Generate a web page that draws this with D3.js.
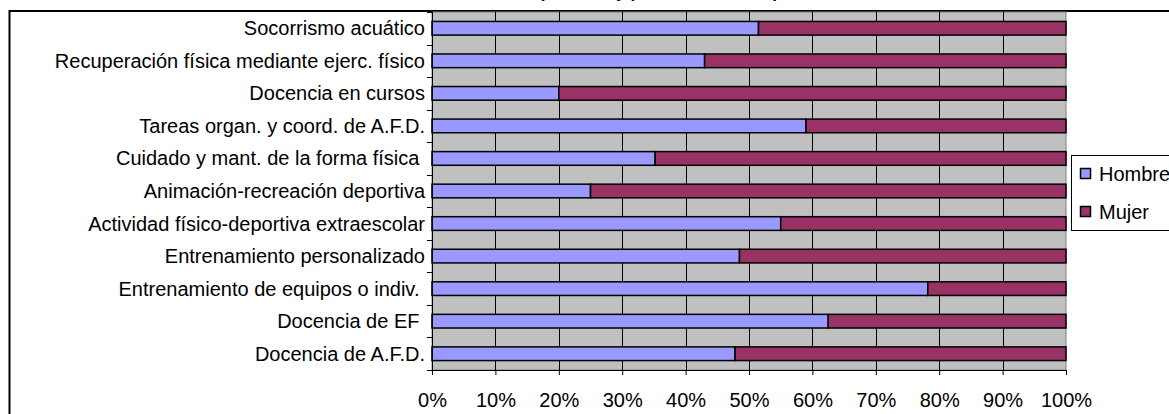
<!DOCTYPE html>
<html>
<head>
<meta charset="utf-8">
<script src="https://cdn.jsdelivr.net/npm/d3@7"></script>
<style>
  html, body { margin: 0; padding: 0; background: #ffffff; overflow: hidden; }
  svg { display: block; }
  text { font-family: "Liberation Sans", Arial, sans-serif; fill: #000; }
</style>
</head>
<body>
<svg id="chart" width="1169" height="414"></svg>
<script>
// ---- Data ----
const title = "Distribución por sexo y por ámbito de empleo";
const categories = [
  "Socorrismo acuático",
  "Recuperación física mediante ejerc. físico",
  "Docencia en cursos",
  "Tareas organ. y coord. de A.F.D.",
  "Cuidado y mant. de la forma física ",
  "Animación-recreación deportiva",
  "Actividad físico-deportiva extraescolar",
  "Entrenamiento personalizado",
  "Entrenamiento de equipos o indiv. ",
  "Docencia de EF ",
  "Docencia de A.F.D."
];
const seriesNames = ["Hombre", "Mujer"];
const hombre = [51.5, 43, 20, 59, 35.2, 25, 55, 48.5, 78.2, 62.5, 47.8];
const mujer  = [48.5, 57, 80, 41, 64.8, 75, 45, 51.5, 21.8, 37.5, 52.2];
const xTicks = [0, 10, 20, 30, 40, 50, 60, 70, 80, 90, 100];
const colors = ["#9999FF", "#993366"];

// ---- Layout ----
const svg = d3.select("#chart");
const plot = { left: 432, right: 1066, top: 12, bottom: 370 };
const fontSize = "20px";

const x = d3.scaleLinear().domain([0, 100]).range([plot.left, plot.right]);
const y = d3.scaleBand().domain(categories).range([plot.top, plot.bottom])
  .paddingInner(0.58).paddingOuter(0.29);

// outer chart frame
svg.append("rect")
  .attr("x", 9.5).attr("y", 11).attr("width", 1200).attr("height", 500)
  .attr("fill", "#fff").attr("stroke", "#000").attr("stroke-width", 2);

// title (mostly clipped above the view, as in the reference)
svg.append("text")
  .attr("x", 622).attr("y", -2)
  .attr("text-anchor", "middle")
  .style("font-size", "17px").style("font-weight", "bold")
  .text(title);

// plot background
svg.append("rect")
  .attr("x", plot.left).attr("y", plot.top)
  .attr("width", plot.right - plot.left).attr("height", plot.bottom - plot.top)
  .attr("fill", "#C0C0C0").attr("stroke", "#808080").attr("stroke-width", 1);

// vertical gridlines
svg.append("g").selectAll("line")
  .data(xTicks.filter(d => d > 0 && d < 100))
  .join("line")
  .attr("x1", d => Math.round(x(d)) + 0.5).attr("x2", d => Math.round(x(d)) + 0.5)
  .attr("y1", plot.top).attr("y2", plot.bottom)
  .attr("stroke", "#000").attr("stroke-width", 1);

// stacked bars
const stackData = categories.map((c, i) => ({ cat: c, Hombre: hombre[i], Mujer: mujer[i] }));
const stacked = d3.stack().keys(seriesNames)(stackData);
svg.append("g").selectAll("g")
  .data(stacked)
  .join("g")
  .attr("fill", (d, i) => colors[i])
  .selectAll("rect")
  .data(d => d)
  .join("rect")
  .attr("x", d => x(d[0]))
  .attr("y", d => y(d.data.cat))
  .attr("width", d => x(d[1]) - x(d[0]))
  .attr("height", y.bandwidth())
  .attr("stroke", "#000").attr("stroke-width", 1.5);

// y axis line + boundary ticks
const yAxisG = svg.append("g");
yAxisG.append("line")
  .attr("x1", plot.left + 0.5).attr("x2", plot.left + 0.5)
  .attr("y1", plot.top).attr("y2", plot.bottom)
  .attr("stroke", "#000").attr("stroke-width", 1);
const boundaries = d3.range(categories.length + 1).map(k => plot.top + k * y.step());
yAxisG.selectAll("line.tick")
  .data(boundaries)
  .join("line").attr("class", "tick")
  .attr("x1", plot.left - 5).attr("x2", plot.left)
  .attr("y1", d => Math.round(d) + 0.5).attr("y2", d => Math.round(d) + 0.5)
  .attr("stroke", "#000").attr("stroke-width", 1);
yAxisG.selectAll("text")
  .data(categories)
  .join("text")
  .attr("x", 425)
  .attr("y", d => y(d) + y.bandwidth() / 2)
  .attr("dy", "0.35em")
  .attr("text-anchor", "end")
  .style("font-size", fontSize)
  .style("white-space", "pre")
  .text(d => d);

// x axis
const xAxis = d3.axisBottom(x).tickValues(xTicks).tickFormat(d => d + "%").tickSize(5).tickPadding(18);
const xg = svg.append("g").attr("transform", `translate(0,${plot.bottom})`).call(xAxis);
xg.select(".domain").attr("stroke", "#000").attr("d", `M${plot.left - 5},0.5H${plot.right}`);
xg.selectAll(".tick line").attr("stroke", "#000");
xg.selectAll(".tick text")
  .style("font-size", fontSize)
  .style("font-family", "'Liberation Sans', Arial, sans-serif")
  .attr("fill", "#000");

// legend
const lg = svg.append("g");
lg.append("rect")
  .attr("x", 1071.5).attr("y", 155.5).attr("width", 120).attr("height", 75)
  .attr("fill", "#fff").attr("stroke", "#000").attr("stroke-width", 1);
const legendY = [174, 212];
seriesNames.forEach((s, i) => {
  lg.append("rect")
    .attr("x", 1080.5).attr("y", legendY[i] - 5.5)
    .attr("width", 10).attr("height", 10)
    .attr("fill", colors[i]).attr("stroke", "#000").attr("stroke-width", 1.5);
  lg.append("text")
    .attr("x", 1099).attr("y", legendY[i])
    .attr("dy", "0.35em")
    .style("font-size", fontSize)
    .text(s);
});
</script>
</body>
</html>
